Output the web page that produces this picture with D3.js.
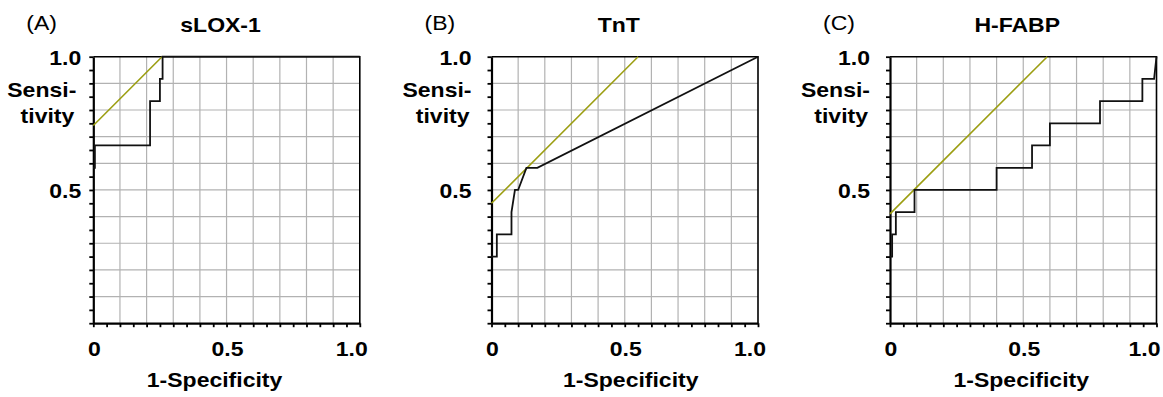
<!DOCTYPE html>
<html>
<head>
<meta charset="utf-8">
<script src="https://cdn.jsdelivr.net/npm/d3@7"></script>
<style>
  body { margin: 0; background: #fff; }
  text { font-family: "Liberation Sans", Arial, sans-serif; fill: #000; }
</style>
</head>
<body>
<div id="chart"></div>
<script>

// ROC curve data (1-specificity, sensitivity)
var panelLetters = ["(A)", "(B)", "(C)"];
var panelTitles = ["sLOX-1", "TnT", "H-FABP"];

var sloxX = [0, 0.006, 0.006, 0.213, 0.213, 0.25, 0.25, 0.26, 0.26, 1];
var sloxY = [0.583, 0.583, 0.667, 0.667, 0.833, 0.833, 0.917, 0.917, 1, 1];

var tntX = [0, 0.02, 0.02, 0.075, 0.075, 0.088, 0.1, 0.131, 0.172, 1];
var tntY = [0.25, 0.25, 0.333, 0.333, 0.417, 0.5, 0.5, 0.583, 0.583, 1];

var hfabpX = [0, 0.008, 0.008, 0.022, 0.022, 0.092, 0.092, 0.40, 0.40, 0.533, 0.533, 0.60, 0.60, 0.788, 0.788, 0.947, 0.947, 0.991, 1];
var hfabpY = [0.25, 0.25, 0.333, 0.333, 0.417, 0.417, 0.5, 0.5, 0.583, 0.583, 0.667, 0.667, 0.75, 0.75, 0.833, 0.833, 0.917, 0.917, 1];

// tangent (slope 1) lines drawn in olive
var tangentX = [[0, 0.258], [0, 0.55], [0, 0.59]];
var tangentY = [[0.742, 1], [0.45, 1], [0.41, 1]];

var curvesX = [sloxX, tntX, hfabpX];
var curvesY = [sloxY, tntY, hfabpY];

var xTickLabels = ["0", "0.5", "1.0"];
var xTickValues = [0, 0.5, 1];
var yTickLabels = ["1.0", "0.5"];
var yTickValues = [1, 0.5];

// layout
var svgWidth = 1163;
var svgHeight = 397;
var plotSize = 266.5;
var plotTop = 56.7;
var panelLeft = [93.3, 491.5, 890];
var yLabelGap = [12, 20, 20];
var lastTickShift = [-8, -8, -12];
var xTitleShift = [-12, 6, -2];
var stretch = 1.18;   // text in the figure is horizontally stretched

var svg = d3.select("#chart")
            .append("svg")
            .attr("width", svgWidth)
            .attr("height", svgHeight);

function stretchedText(g, x, y, str, anchor, weight) {
    return g.append("text")
            .attr("transform", `translate(${x}, ${y}) scale(${stretch}, 1)`)
            .attr("text-anchor", anchor)
            .attr("font-size", "19.5px")
            .attr("font-weight", weight)
            .text(str);
}

var ticks = d3.range(0, 1.0001, 0.05);
var gridVals = d3.range(0.1, 0.95, 0.1);

panelLeft.forEach(function(left, i) {
    var g = svg.append("g")
               .attr("transform", `translate(${left}, ${plotTop})`);

    var x = d3.scaleLinear().domain([0, 1]).range([0, plotSize]);
    var y = d3.scaleLinear().domain([0, 1]).range([plotSize, 0]);

    // grid
    g.selectAll(".vgrid")
     .data(gridVals)
     .enter()
     .append("line")
     .attr("x1", d => x(d)).attr("x2", d => x(d))
     .attr("y1", 0).attr("y2", plotSize)
     .attr("stroke", "#b2b2b2")
     .attr("stroke-width", 1.2);

    g.selectAll(".hgrid")
     .data(gridVals)
     .enter()
     .append("line")
     .attr("y1", d => y(d)).attr("y2", d => y(d))
     .attr("x1", 0).attr("x2", plotSize)
     .attr("stroke", "#b2b2b2")
     .attr("stroke-width", 1.2);

    // frame top and right
    g.append("path")
     .attr("d", `M0,0H${plotSize}V${plotSize}`)
     .attr("fill", "none")
     .attr("stroke", "#000")
     .attr("stroke-width", 1.6);

    // axes
    var bottomAxis = d3.axisBottom(x).tickValues(ticks).tickFormat("").tickSize(4).tickSizeOuter(0);
    var leftAxis = d3.axisLeft(y).tickValues(ticks).tickFormat("").tickSize(4).tickSizeOuter(0);

    var xAxis = g.append("g")
                 .attr("transform", `translate(0, ${plotSize})`)
                 .call(bottomAxis);
    var yAxis = g.append("g").call(leftAxis);

    [xAxis, yAxis].forEach(function(a) {
        a.select(".domain").attr("stroke-width", 2.2);
        a.selectAll(".tick line").attr("stroke-width", 1.8);
    });

    // tangent line
    var line = d3.line().x(d => x(d[0])).y(d => y(d[1]));
    g.append("path")
     .datum(d3.zip(tangentX[i], tangentY[i]))
     .attr("d", line)
     .attr("fill", "none")
     .attr("stroke", "#9c9e12")
     .attr("stroke-width", 1.6);

    // ROC curve
    g.append("path")
     .datum(d3.zip(curvesX[i], curvesY[i]))
     .attr("d", line)
     .attr("fill", "none")
     .attr("stroke", "#111")
     .attr("stroke-width", 1.8)
     .attr("stroke-linejoin", "miter");

    // tick labels
    xTickValues.forEach(function(v, k) {
        var shift = v === 1 ? lastTickShift[i] : 1;
        stretchedText(g, x(v) + shift, plotSize + 33, xTickLabels[k], "middle", "bold");
    });
    yTickValues.forEach(function(v, k) {
        stretchedText(g, -yLabelGap[i], y(v) + 8, yTickLabels[k], "end", "bold");
    });

    // axis titles
    var yTitleGap = i === 0 ? 17 : 20;
    stretchedText(g, -yTitleGap, y(0.85), "Sensi-", "end", "bold");
    stretchedText(g, -yTitleGap - 2, y(0.75), "tivity", "end", "bold");
    stretchedText(g, plotSize / 2 + xTitleShift[i], plotSize + 64, "1-Specificity", "middle", "bold");

    // panel title and letter
    stretchedText(g, plotSize / 2 - 6, -25, panelTitles[i], "middle", "bold");
    stretchedText(g, -67, -27, panelLetters[i], "start", "normal");
});

</script>
</body>
</html>
